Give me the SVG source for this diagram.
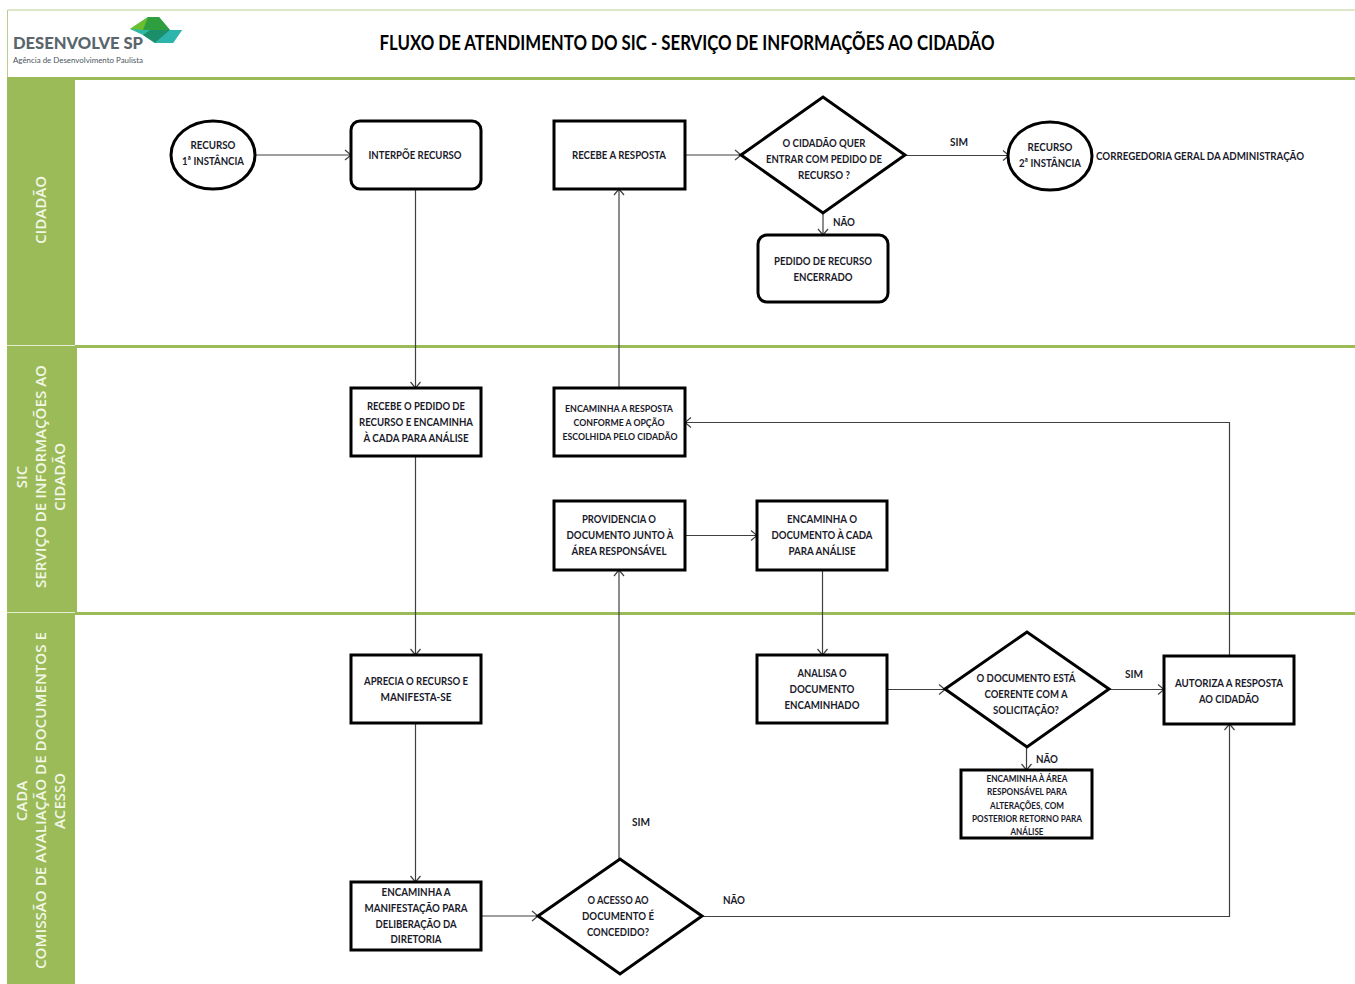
<svg xmlns="http://www.w3.org/2000/svg" width="1355" height="984" viewBox="0 0 1355 984">
<style>
.n{fill:#fff;stroke:#000;stroke-width:3}
.c{fill:none;stroke:#404040;stroke-width:1.2;marker-end:url(#a)}
text{font-family:"Lato","Liberation Sans",sans-serif;font-weight:700;font-size:12px;fill:#1a1a2a;text-anchor:middle}
.s{font-size:10px}
.lane{font-family:"Open Sans","Liberation Sans",sans-serif;font-weight:600;font-size:15px;fill:#f2f7e6}
</style>
<defs><marker id="a" markerUnits="userSpaceOnUse" markerWidth="12" markerHeight="12" refX="9" refY="6" orient="auto"><path d="M3 1 L9 6 L3 11" fill="none" stroke="#404040" stroke-width="1.2"/></marker></defs>
<rect width="1355" height="984" fill="#fff"/>
<g id="frame">
<path d="M7.500 984V10H1355" fill="none" stroke="#b9cf90"/>
<rect x="7" y="79" width="68" height="905" fill="#9bbb59"/>
<rect x="7" y="77" width="1348" height="3" fill="#9bbb59"/>
<rect x="75" y="345" width="1280" height="3" fill="#9bbb59"/>
<rect x="75" y="612" width="1280" height="3" fill="#9bbb59"/>
<rect x="75" y="345" width="2" height="270" fill="#9bbb59"/>
<rect x="7" y="345" width="68" height="1" fill="#e4edd2"/>
<rect x="7" y="612" width="68" height="1" fill="#e4edd2"/>
</g>
<g id="logo">
<polygon points="130,29 148,17 159,17 170,30 182,30 173,43 155,43 143,35" fill="#2eb8a8"/>
<polygon points="130,29 148,17 155,17 143,30" fill="#6cbf2c"/>
<polygon points="148,17 159,17 170,30 143,30" fill="#2f9e3f"/>
<polygon points="143,35 150,30 170,30 155,43" fill="#1a8f6a"/>
<polygon points="170,30 182,30 173,43 155,43" fill="#2db5ad"/>
<text x="78" y="49" textLength="130" lengthAdjust="spacingAndGlyphs" style="font-size:17px;font-weight:900;fill:#5a666c">DESENVOLVE SP</text>
<text x="78" y="63" textLength="130" lengthAdjust="spacingAndGlyphs" style="font-size:8px;font-weight:400;fill:#4a565c">Agência de Desenvolvimento Paulista</text>
</g>
<text id="title" x="687" y="50" textLength="615" lengthAdjust="spacingAndGlyphs" style="font-size:20px;fill:#000">FLUXO DE ATENDIMENTO DO SIC - SERVIÇO DE INFORMAÇÕES AO CIDADÃO</text>
<g id="lane-cidadao"><text class="lane" textLength="68" lengthAdjust="spacingAndGlyphs" transform="translate(46 210) rotate(-90)">CIDADÃO</text></g>
<g id="lane-sic"><text class="lane" transform="translate(27 477) rotate(-90)">SIC</text><text class="lane" textLength="223" lengthAdjust="spacingAndGlyphs" transform="translate(46 476.500) rotate(-90)">SERVIÇO DE INFORMAÇÕES AO</text><text class="lane" textLength="68" lengthAdjust="spacingAndGlyphs" transform="translate(65 477) rotate(-90)">CIDADÃO</text></g>
<g id="lane-cada"><text class="lane" transform="translate(27 801) rotate(-90)">CADA</text><text class="lane" textLength="337" lengthAdjust="spacingAndGlyphs" transform="translate(46 800.500) rotate(-90)">COMISSÃO DE AVALIAÇÃO DE DOCUMENTOS E</text><text class="lane" transform="translate(65 801) rotate(-90)">ACESSO</text></g>
<g id="connectors">
<path class="c" d="M256 155H351"/>
<path class="c" d="M415.500 189V388"/>
<path class="c" d="M415.500 456V655"/>
<path class="c" d="M415.500 723V882"/>
<path class="c" d="M481 916H538"/>
<path class="c" d="M619 859V570"/>
<path class="c" d="M619 388V189"/>
<path class="c" d="M685 155H741"/>
<path class="c" d="M905 155.500H1009"/>
<path class="c" d="M823 213V235"/>
<path class="c" d="M685 535.500H757"/>
<path class="c" d="M822.500 570V655"/>
<path class="c" d="M887 689.500H945"/>
<path class="c" d="M1109 689.500H1164"/>
<path class="c" d="M1026.500 747V770"/>
<path class="c" d="M1229.500 656V422.500H685"/>
<path class="c" d="M702 916.500H1229.500V724"/>
</g>
<g id="recurso1"><ellipse class="n" cx="213" cy="155" rx="42" ry="34"/><text x="213" y="149" textLength="45" lengthAdjust="spacingAndGlyphs">RECURSO</text><text x="213" y="165" textLength="62" lengthAdjust="spacingAndGlyphs">1ª INSTÂNCIA</text></g>
<g id="interpoe"><rect class="n" x="351" y="121" width="130" height="68" rx="9"/><text x="415" y="158.500" textLength="93" lengthAdjust="spacingAndGlyphs">INTERPÕE RECURSO</text></g>
<g id="recebe-resposta"><rect class="n" x="554" y="121" width="131" height="68"/><text x="619" y="158.500" textLength="94" lengthAdjust="spacingAndGlyphs">RECEBE A RESPOSTA</text></g>
<g id="decisao-cidadao"><polygon class="n" points="741,155 823,97 905,155 823,213"/><text x="824" y="146.500" textLength="83" lengthAdjust="spacingAndGlyphs">O CIDADÃO QUER</text><text x="824" y="162.500" textLength="116" lengthAdjust="spacingAndGlyphs">ENTRAR COM PEDIDO DE</text><text x="824" y="178.500" textLength="52" lengthAdjust="spacingAndGlyphs">RECURSO ?</text></g>
<g id="recurso2"><ellipse class="n" cx="1050" cy="156" rx="42" ry="34"/><text x="1050" y="151" textLength="45" lengthAdjust="spacingAndGlyphs">RECURSO</text><text x="1050" y="167" textLength="62" lengthAdjust="spacingAndGlyphs">2ª INSTÂNCIA</text></g>
<text id="corregedoria" x="1200" y="159.500" textLength="208" lengthAdjust="spacingAndGlyphs">CORREGEDORIA GERAL DA ADMINISTRAÇÃO</text>
<g id="encerrado"><rect class="n" x="758" y="235" width="130" height="67" rx="9"/><text x="823" y="264.500" textLength="98" lengthAdjust="spacingAndGlyphs">PEDIDO DE RECURSO</text><text x="823" y="280.500" textLength="59" lengthAdjust="spacingAndGlyphs">ENCERRADO</text></g>
<g id="recebe-pedido"><rect class="n" x="351" y="388" width="130" height="68"/><text x="416" y="410" textLength="98" lengthAdjust="spacingAndGlyphs">RECEBE O PEDIDO DE</text><text x="416" y="426" textLength="114" lengthAdjust="spacingAndGlyphs">RECURSO E ENCAMINHA</text><text x="416" y="441.500" textLength="105" lengthAdjust="spacingAndGlyphs">À CADA PARA ANÁLISE</text></g>
<g id="encaminha-resposta"><rect class="n" x="554" y="388" width="131" height="68"/><text class="s" x="619" y="412" textLength="108" lengthAdjust="spacingAndGlyphs">ENCAMINHA A RESPOSTA</text><text class="s" x="619" y="426" textLength="91" lengthAdjust="spacingAndGlyphs">CONFORME A OPÇÃO</text><text class="s" x="620" y="440" textLength="115" lengthAdjust="spacingAndGlyphs">ESCOLHIDA PELO CIDADÃO</text></g>
<g id="providencia"><rect class="n" x="554" y="501" width="131" height="69"/><text x="619" y="523" textLength="74" lengthAdjust="spacingAndGlyphs">PROVIDENCIA O</text><text x="620" y="539" textLength="107" lengthAdjust="spacingAndGlyphs">DOCUMENTO JUNTO À</text><text x="619" y="555" textLength="95" lengthAdjust="spacingAndGlyphs">ÁREA RESPONSÁVEL</text></g>
<g id="encaminha-doc"><rect class="n" x="757" y="501" width="130" height="69"/><text x="822" y="523" textLength="70" lengthAdjust="spacingAndGlyphs">ENCAMINHA O</text><text x="822" y="539" textLength="101" lengthAdjust="spacingAndGlyphs">DOCUMENTO À CADA</text><text x="822" y="555" textLength="67" lengthAdjust="spacingAndGlyphs">PARA ANÁLISE</text></g>
<g id="aprecia"><rect class="n" x="351" y="655" width="130" height="68"/><text x="416" y="685" textLength="104" lengthAdjust="spacingAndGlyphs">APRECIA O RECURSO E</text><text x="416" y="701" textLength="71" lengthAdjust="spacingAndGlyphs">MANIFESTA-SE</text></g>
<g id="analisa"><rect class="n" x="757" y="655" width="130" height="68"/><text x="822" y="677" textLength="49" lengthAdjust="spacingAndGlyphs">ANALISA O</text><text x="822" y="693" textLength="65" lengthAdjust="spacingAndGlyphs">DOCUMENTO</text><text x="822" y="709" textLength="75" lengthAdjust="spacingAndGlyphs">ENCAMINHADO</text></g>
<g id="decisao-documento"><polygon class="n" points="945,689 1027,632 1109,689 1027,747"/><text x="1026" y="682" textLength="99" lengthAdjust="spacingAndGlyphs">O DOCUMENTO ESTÁ</text><text x="1026" y="698" textLength="83" lengthAdjust="spacingAndGlyphs">COERENTE COM A</text><text x="1026" y="714" textLength="66" lengthAdjust="spacingAndGlyphs">SOLICITAÇÃO?</text></g>
<g id="autoriza"><rect class="n" x="1164" y="656" width="130" height="68"/><text x="1229" y="686.500" textLength="108" lengthAdjust="spacingAndGlyphs">AUTORIZA A RESPOSTA</text><text x="1229" y="702.500" textLength="60" lengthAdjust="spacingAndGlyphs">AO CIDADÃO</text></g>
<g id="encaminha-area"><rect class="n" x="961" y="770" width="131" height="68"/><text class="s" x="1027" y="782" textLength="81" lengthAdjust="spacingAndGlyphs">ENCAMINHA À ÁREA</text><text class="s" x="1027" y="795" textLength="80" lengthAdjust="spacingAndGlyphs">RESPONSÁVEL PARA</text><text class="s" x="1027" y="809" textLength="74" lengthAdjust="spacingAndGlyphs">ALTERAÇÕES, COM</text><text class="s" x="1027" y="822" textLength="110" lengthAdjust="spacingAndGlyphs">POSTERIOR RETORNO PARA</text><text class="s" x="1027" y="835" textLength="33" lengthAdjust="spacingAndGlyphs">ANÁLISE</text></g>
<g id="encaminha-manifestacao"><rect class="n" x="351" y="882" width="130" height="68"/><text x="416" y="896" textLength="69" lengthAdjust="spacingAndGlyphs">ENCAMINHA A</text><text x="416" y="912" textLength="103" lengthAdjust="spacingAndGlyphs">MANIFESTAÇÃO PARA</text><text x="416" y="928" textLength="81" lengthAdjust="spacingAndGlyphs">DELIBERAÇÃO DA</text><text x="416" y="943" textLength="51" lengthAdjust="spacingAndGlyphs">DIRETORIA</text></g>
<g id="decisao-acesso"><polygon class="n" points="538,916 620,859 702,916 620,974"/><text x="618" y="904" textLength="61" lengthAdjust="spacingAndGlyphs">O ACESSO AO</text><text x="618" y="920" textLength="72" lengthAdjust="spacingAndGlyphs">DOCUMENTO É</text><text x="618" y="936" textLength="62" lengthAdjust="spacingAndGlyphs">CONCEDIDO?</text></g>
<g id="labels">
<text x="959" y="146" textLength="18" lengthAdjust="spacingAndGlyphs">SIM</text>
<text x="844" y="226" textLength="22" lengthAdjust="spacingAndGlyphs">NÃO</text>
<text x="1134" y="678" textLength="18" lengthAdjust="spacingAndGlyphs">SIM</text>
<text x="1047" y="763" textLength="22" lengthAdjust="spacingAndGlyphs">NÃO</text>
<text x="641" y="826" textLength="18" lengthAdjust="spacingAndGlyphs">SIM</text>
<text x="734" y="904" textLength="22" lengthAdjust="spacingAndGlyphs">NÃO</text>
</g>
</svg>
